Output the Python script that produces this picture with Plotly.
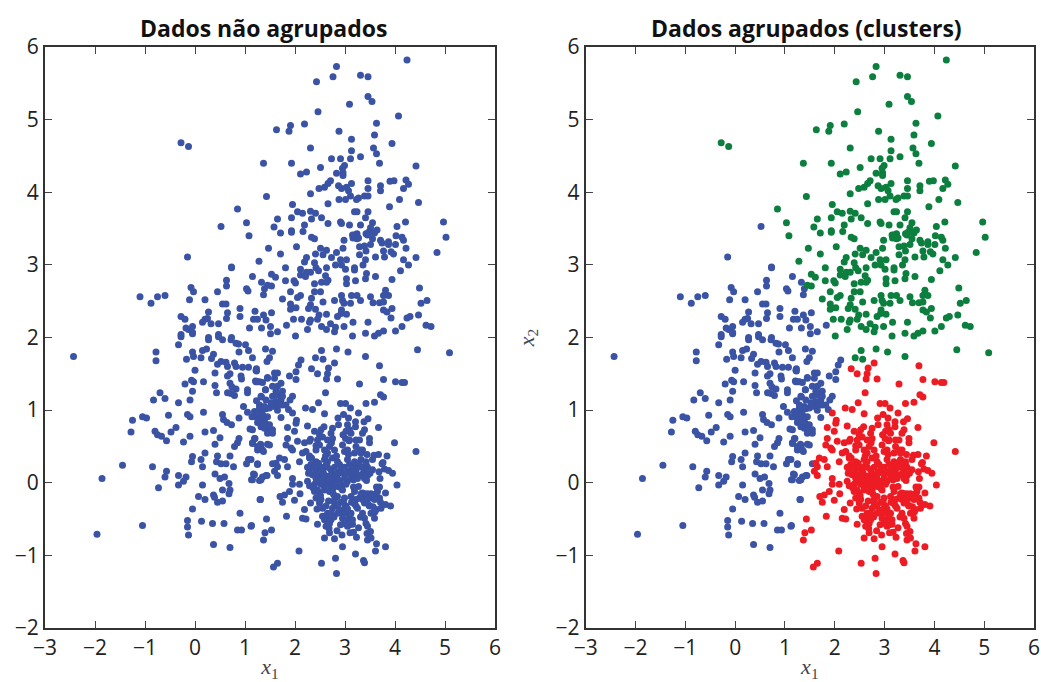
import plotly.graph_objects as go
from plotly.subplots import make_subplots

titles = ["Dados não agrupados", "Dados agrupados (clusters)"]
tick_x = [-3, -2, -1, 0, 1, 2, 3, 4, 5, 6]
tick_y = [-2, -1, 0, 1, 2, 3, 4, 5, 6]

green_x = [4.24,2.83,2.76,2.43,3.31,3.46,3.46,3.54,3.09,2.46,4.07,3.63,2.19,1.91,1.88,1.63,2.88,3.59,3.13,3.94,-0.28,-0.13,2.31,3.57,3.13,3.63,3.31,2.73,2.91,3.11,1.37,1.93,3.69,4.42,2.51,2.99,2.95,2.23,2.11,2.83,2.96,2.96,2.71,2.66,2.59,2.48,3.13,3.46,3.90,3.98,4.22,4.27,4.17,3.71,3.71,3.46,2.87,2.93,3.03,3.07,3.11,2.31,3.39,3.46,3.27,3.23,2.88,3.01,1.43,4.09,4.47,2.66,1.95,3.89,0.85,2.05,2.15,2.31,2.41,3.19,3.24,3.46,1.93,1.65,2.33,2.53,3.41,2.91,2.93,2.66,3.09,3.31,3.55,4.21,4.97,1.03,2.19,1.58,4.04,3.51,1.93,1.93,2.16,1.71,3.64,3.42,3.47,3.24,3.19,3.16,3.24,3.59,1.08,2.33,2.39,5.02,4.02,4.14,2.98,3.55,3.71,3.74,3.87,3.87,4.17,4.01,3.51,3.29,3.39,2.03,1.47,2.51,2.96,4.22,3.42,3.29,3.77,3.92,3.97,2.63,2.56,2.41,2.83,1.71,4.84,3.79,3.61,2.73,2.23,3.03,2.91,3.41,4.17,4.42,1.28,2.19,2.39,2.81,2.93,3.36,4.27,1.81,2.11,2.42,2.63,3.01,3.19,3.19,2.47,2.23,2.31,4.11,2.11,2.21,1.53,1.61,3.43,3.61,3.41,2.61,2.66,3.03,3.94,1.81,1.98,2.01,2.53,2.63,2.39,3.21,3.03,1.45,1.53,4.49,1.91,2.39,2.51,3.81,2.11,2.05,2.93,3.13,3.24,3.51,3.77,3.87,2.33,1.75,2.95,2.79,2.56,3.31,4.64,3.56,3.69,3.77,3.11,2.98,4.52,1.91,1.93,1.91,2.02,2.31,2.27,2.41,3.94,3.77,3.84,2.93,2.92,2.63,2.48,3.03,2.85,4.47,4.30,4.24,3.92,1.97,2.13,2.31,2.45,2.29,2.71,3.16,3.46,4.62,4.72,2.53,2.98,4.14,2.25,2.63,2.81,2.79,3.77,4.01,3.67,3.41,2.01,3.15,3.59,2.41,2.56,2.53,3.06,3.41,2.83,4.45,5.09,3.22,3.27,3.45,3.52,3.15]
green_y = [5.82,5.73,5.59,5.52,5.61,5.59,5.32,5.25,5.21,5.11,5.05,4.95,4.94,4.92,4.84,4.86,4.84,4.79,4.73,4.67,4.68,4.63,4.61,4.61,4.57,4.53,4.49,4.46,4.46,4.46,4.40,4.40,4.40,4.36,4.34,4.37,4.33,4.28,4.25,4.26,4.27,4.23,4.16,4.12,4.07,4.05,4.12,4.16,4.15,4.16,4.17,4.11,4.05,4.09,4.02,4.05,4.09,4.05,4.07,4.02,3.95,3.98,3.95,3.95,3.92,3.90,3.90,3.90,3.94,3.90,3.86,3.84,3.83,3.80,3.77,3.73,3.71,3.74,3.71,3.73,3.73,3.73,3.65,3.63,3.63,3.65,3.65,3.59,3.57,3.57,3.55,3.55,3.58,3.59,3.59,3.58,3.55,3.52,3.53,3.51,3.47,3.45,3.46,3.44,3.48,3.43,3.45,3.43,3.41,3.37,3.36,3.44,3.40,3.38,3.36,3.38,3.40,3.38,3.34,3.36,3.34,3.30,3.32,3.28,3.34,3.28,3.28,3.25,3.26,3.25,3.23,3.23,3.23,3.23,3.19,3.14,3.19,3.18,3.15,3.20,3.14,3.15,3.17,3.15,3.17,3.11,3.11,3.10,3.10,3.07,3.07,3.07,3.07,3.10,3.05,3.04,3.03,3.00,3.00,3.00,3.00,2.96,2.94,2.96,2.96,2.94,2.96,2.93,2.92,2.90,2.90,2.92,2.86,2.84,2.87,2.83,2.88,2.84,2.81,2.85,2.79,2.81,2.80,2.78,2.78,2.75,2.76,2.76,2.74,2.78,2.74,2.72,2.71,2.68,2.63,2.63,2.63,2.65,2.58,2.55,2.58,2.58,2.58,2.56,2.58,2.58,2.54,2.53,2.51,2.51,2.49,2.51,2.51,2.48,2.48,2.49,2.47,2.47,2.47,2.46,2.41,2.39,2.41,2.45,2.40,2.39,2.40,2.38,2.35,2.38,2.33,2.32,2.31,2.32,2.29,2.31,2.29,2.27,2.27,2.25,2.25,2.24,2.25,2.21,2.19,2.21,2.21,2.17,2.15,2.15,2.15,2.15,2.11,2.11,2.14,2.08,2.09,2.09,2.06,2.06,2.02,2.02,2.02,1.72,1.70,1.82,1.80,1.74,1.84,1.83,1.79,3.40,3.37,3.41,3.45,3.41]

blue_x = [-2.43,-0.78,-0.78,-0.28,-0.33,-0.13,-0.05,0.27,0.47,0.55,0.72,0.82,0.87,1.01,1.07,0.88,1.41,1.15,-0.05,-0.03,-0.17,0.12,0.15,0.23,0.37,0.33,0.45,0.52,0.62,0.65,0.79,0.82,0.95,1.07,1.23,1.23,1.44,0.0,0.40,0.65,0.70,0.92,0.93,1.45,-0.07,-0.03,-0.20,0.17,0.40,0.70,1.21,1.25,1.35,0.74,0.82,1.05,1.05,1.41,-0.05,0.43,0.65,0.72,0.79,-0.70,-0.60,-0.83,-0.33,-0.10,1.33,1.23,0.97,1.05,1.29,1.32,1.42,1.20,1.24,1.25,1.35,1.32,1.42,1.45,0.17,0.55,-0.53,-0.15,-0.10,-1.05,-0.97,-1.25,0.88,0.57,0.64,0.73,-0.38,-0.48,-1.28,-0.80,-0.75,-0.67,-0.57,-0.23,-0.10,0.20,0.37,0.50,1.10,0.88,0.85,0.40,0.79,1.20,1.15,1.31,1.45,1.25,1.37,0.20,-0.05,-0.07,0.12,0.45,0.70,0.43,0.52,0.62,1.07,1.03,1.25,0.77,0.15,-1.45,-0.85,-0.57,-0.60,-1.86,-0.33,-0.18,-0.23,-0.33,0.40,0.50,0.59,1.17,1.13,1.29,1.35,1.44,0.68,0.15,-0.73,0.55,0.70,0.68,0.07,0.37,0.39,0.20,0.45,0.55,1.31,-0.05,0.90,-0.15,-0.15,-0.13,0.13,0.35,0.58,1.13,0.85,0.93,-1.05,-1.96,0.37,0.70,0.52,-0.15,0.73,0.73,1.15,1.33,0.63,0.63,-0.08,-0.03,1.03,1.06,0.45,1.39,1.37,-0.60,-0.75,-1.10,-0.88,-0.11,0.20,0.55,0.62,0.90,0.65,1.20,1.53,0.90,0.63,0.27,-0.28,-0.20,0.25,0.20,1.37,1.17,1.25,1.42,0.15,0.32,0.47,1.83,1.51,1.33,1.09,-0.18,-0.05,-0.05,1.65,1.51,-0.28,0.27,0.47,0.73,1.55,1.49,2.12,2.07,2.02,1.89,2.02,1.59,1.65,1.59,1.22,1.22,1.45,1.65,1.75,1.41,1.55,1.95,1.90,1.32,1.72,1.75,1.87,1.49,1.59,1.65,1.39,1.29,1.19,1.72,1.25,1.32,1.39,1.49,1.55,1.19,1.15,1.32,1.49,1.35,1.25,1.55,1.19,1.42,1.32,1.15,1.30,1.12,1.25,1.35,1.45,1.29,1.39,1.49,1.35,1.55,1.45,1.62,1.52,1.65,1.75,1.82,1.69,1.42,1.62,1.55,1.72,1.29,1.14,1.15,1.25,1.12]
blue_y = [1.74,1.80,1.68,2.01,1.90,2.11,2.05,1.97,2.01,1.97,1.97,1.92,1.91,1.90,1.82,1.80,1.84,1.72,1.80,1.74,1.70,1.72,1.82,1.84,1.77,1.71,1.63,1.67,1.66,1.60,1.65,1.60,1.59,1.59,1.57,1.54,1.67,1.55,1.51,1.47,1.50,1.47,1.43,1.45,1.41,1.39,1.36,1.39,1.34,1.37,1.40,1.39,1.38,1.32,1.29,1.28,1.24,1.28,1.26,1.24,1.24,1.23,1.20,1.24,1.16,1.14,1.10,1.14,1.18,1.13,1.05,0.97,1.07,0.99,1.02,0.96,0.90,0.83,0.87,0.77,0.81,0.73,0.97,0.94,0.93,0.94,0.91,0.91,0.89,0.86,0.89,0.87,0.83,0.80,0.76,0.70,0.70,0.71,0.66,0.64,0.58,0.56,0.64,0.70,0.72,0.62,0.74,0.61,0.55,0.53,0.50,0.61,0.55,0.53,0.53,0.45,0.43,0.41,0.36,0.29,0.32,0.37,0.37,0.29,0.26,0.26,0.32,0.26,0.26,0.22,0.22,0.24,0.22,0.16,0.08,0.06,0.10,0.08,0.02,-0.03,0.12,0.06,0.08,0.12,0.04,0.03,0.08,0.10,-0.01,-0.03,-0.07,-0.10,-0.10,-0.15,-0.19,-0.17,-0.20,-0.23,-0.27,-0.25,-0.23,-0.36,-0.42,-0.52,-0.61,-0.72,-0.53,-0.56,-0.56,-0.59,-0.65,-0.65,-0.59,-0.71,-0.85,-0.89,3.53,3.11,2.97,2.96,2.84,2.76,2.79,2.71,2.69,2.63,2.67,2.64,2.63,2.67,2.59,2.58,2.56,2.56,2.47,2.52,2.52,2.46,2.46,2.40,2.34,2.36,2.34,2.29,2.26,2.35,2.29,2.25,2.26,2.25,2.31,2.25,2.25,2.24,2.21,2.19,2.19,2.17,2.15,2.13,2.13,2.13,2.15,2.07,2.08,2.05,2.04,2.0,2.04,2.0,1.81,1.72,1.69,1.62,1.53,1.47,1.42,1.51,1.51,1.44,1.55,1.39,1.44,1.33,1.26,1.28,1.19,1.19,1.14,1.19,1.14,1.07,1.01,1.03,1.05,1.0,1.05,1.03,0.98,0.90,0.89,0.84,0.75,0.71,0.73,0.61,0.54,0.52,0.52,0.45,0.25,0.26,0.11,0.10,0.04,0.04,-0.23,-0.60,0.96,0.94,0.91,0.87,0.84,0.80,0.80,0.68,0.68,1.12,1.10,1.21,1.19,1.07,1.07,1.14,1.26,1.33,1.37,1.39,0.91,0.73,0.50,0.32]

red_x = [2.79,2.33,2.45,2.67,2.65,2.63,2.85,3.69,3.77,3.29,4.01,4.14,4.19,2.61,3.71,3.77,2.21,2.35,2.47,2.59,2.91,3.01,3.42,3.59,3.11,3.27,1.95,2.03,2.02,2.86,2.97,3.07,3.46,1.85,1.99,2.25,2.75,2.72,3.05,3.21,3.21,3.67,2.39,2.49,2.55,3.02,3.12,3.35,1.85,2.05,2.31,2.29,2.75,3.01,3.49,3.49,3.29,3.99,4.42,1.82,1.92,2.19,2.42,2.69,2.95,3.22,1.95,2.22,2.65,2.99,3.19,3.44,3.67,3.84,1.69,1.79,2.09,2.29,2.59,2.75,3.05,3.32,3.55,1.62,1.85,1.65,2.32,2.45,2.61,2.89,3.09,3.25,3.42,3.74,1.59,1.65,2.29,2.42,2.55,2.72,2.92,3.09,3.22,3.39,3.55,3.79,3.87,3.95,2.35,2.49,2.65,2.82,2.99,3.15,3.32,3.45,1.95,3.70,2.25,2.45,2.62,2.75,2.89,3.05,1.95,2.09,2.29,4.04,2.59,2.72,2.85,3.69,3.65,1.89,2.39,2.49,2.69,3.19,3.35,3.45,3.81,1.79,1.70,2.10,2.42,2.85,2.99,3.12,3.29,3.55,3.69,1.75,1.99,2.49,2.79,2.92,3.19,3.39,3.81,3.91,2.55,2.75,2.99,3.25,3.72,2.19,2.65,2.85,3.05,3.35,3.52,3.62,1.83,2.15,2.22,2.65,2.95,3.09,3.39,3.59,1.43,2.45,2.69,2.99,3.15,3.42,2.62,3.05,3.45,1.53,1.40,2.69,2.94,3.10,3.51,2.59,2.79,3.23,3.45,3.52,1.37,3.63,2.95,3.81,3.61,2.08,3.21,2.81,3.37,2.53,3.39,1.65,1.57,2.83]
red_y = [1.65,1.57,1.50,1.58,1.50,1.43,1.43,1.61,1.42,1.36,1.39,1.38,1.38,1.24,1.21,1.18,1.03,1.01,1.10,0.95,1.09,1.09,1.09,1.11,1.03,0.96,0.96,0.86,0.82,0.89,0.94,0.89,0.88,0.76,0.71,0.78,0.75,0.68,0.80,0.84,0.77,0.76,0.71,0.66,0.63,0.71,0.68,0.68,0.61,0.57,0.60,0.57,0.61,0.61,0.61,0.55,0.59,0.55,0.43,0.52,0.48,0.55,0.51,0.50,0.52,0.50,0.45,0.43,0.41,0.43,0.41,0.39,0.39,0.37,0.34,0.32,0.29,0.34,0.32,0.34,0.32,0.32,0.32,0.27,0.22,0.22,0.25,0.25,0.22,0.25,0.25,0.25,0.25,0.26,0.16,0.10,0.18,0.18,0.16,0.18,0.18,0.16,0.18,0.16,0.18,0.19,0.17,0.13,0.11,0.10,0.09,0.10,0.11,0.10,0.11,0.10,0.06,0.06,0.02,0.02,0.02,0.02,0.02,0.02,-0.02,-0.02,-0.04,-0.03,-0.05,-0.06,-0.05,-0.06,-0.12,-0.12,-0.12,-0.14,-0.12,-0.12,-0.14,-0.15,-0.14,-0.17,-0.19,-0.15,-0.21,-0.19,-0.21,-0.19,-0.21,-0.21,-0.21,-0.27,-0.24,-0.28,-0.28,-0.27,-0.29,-0.28,-0.30,-0.32,-0.35,-0.35,-0.35,-0.35,-0.35,-0.37,-0.42,-0.42,-0.42,-0.42,-0.42,-0.37,-0.46,-0.49,-0.50,-0.49,-0.49,-0.49,-0.49,-0.49,-0.50,-0.57,-0.56,-0.56,-0.57,-0.56,-0.60,-0.60,-0.60,-0.65,-0.69,-0.69,-0.72,-0.69,-0.67,-0.76,-0.77,-0.75,-0.79,-0.76,-0.79,-0.84,-0.88,-0.88,-0.94,-0.94,-0.98,-1.04,-1.07,-1.11,-1.10,-1.11,-1.16,-1.25]
red_core_x = [2.25,2.39,2.52,2.65,2.79,2.99,3.15,3.32,3.45,2.27,2.41,2.57,2.74,2.87,3.03,3.21,3.37,3.50,2.42,2.57,2.72,2.85,2.99,3.12,3.25,3.39,2.39,2.52,2.65,2.79,2.92,3.02,2.42,2.65,2.85,3.19,3.42,2.45,2.59,2.75,2.95,3.32,3.39,3.52,3.62,2.52,2.79,3.22,3.35,3.45,3.59,2.62,2.85,3.02,3.22,3.49,2.72,2.95,3.12,2.59,2.72,3.02,3.15,2.65,3.09,2.42,2.59,2.79,3.05,3.35,2.45,2.65,3.09,3.22,2.52,3.09,3.39,2.15,3.32]
red_core_y = [0.215,0.215,0.215,0.215,0.215,0.215,0.215,0.215,0.215,0.13,0.13,0.13,0.13,0.13,0.13,0.13,0.13,0.13,0.06,0.06,0.06,0.06,0.06,0.06,0.06,0.06,-0.02,-0.02,-0.02,-0.02,-0.02,-0.02,0.29,0.29,0.29,0.29,0.29,-0.10,-0.10,-0.10,-0.10,-0.15,-0.15,-0.15,-0.15,-0.23,-0.23,-0.23,-0.23,-0.23,-0.23,-0.32,-0.32,-0.32,-0.32,-0.32,-0.42,-0.42,-0.42,-0.51,-0.51,-0.51,-0.51,-0.58,-0.58,0.45,0.45,0.45,0.45,0.45,0.59,0.59,0.59,0.59,0.73,0.73,0.73,0.41,0.41]
red_fill_x = [2.33,2.47,2.61,2.83,3.07,3.28,3.58,3.68,3.76,2.36,2.55,2.68,2.93,3.17,3.43,3.63,2.31,2.51,2.77,2.97,3.27,3.48,3.71,2.44,2.67,2.89,3.13,3.31,3.56,2.55,2.78,2.91,3.27,3.44,2.68,2.84,3.05,3.17,2.49,2.73,2.96,3.3,3.08,2.58,2.87,3.38,2.29,2.62,2.86,3.17,3.6]
red_fill_y = [0.34,0.27,0.37,0.37,0.39,0.27,0.38,0.15,0.28,-0.07,0.0,0.03,-0.08,-0.06,0.03,-0.06,-0.28,-0.18,-0.16,-0.27,-0.05,-0.31,-0.27,-0.36,-0.25,-0.38,-0.27,-0.47,-0.33,-0.46,-0.47,-0.58,-0.62,-0.7,-0.63,-0.66,-0.36,-0.68,0.52,0.55,0.66,0.45,0.58,0.77,0.8,0.84,0.37,0.24,0.14,0.04,-0.4]

BLUE, GREEN, RED = "#3a53a4", "#0c7f3f", "#ed1c24"
all_red_x, all_red_y = red_x + red_core_x + red_fill_x, red_y + red_core_y + red_fill_y
fig = make_subplots(rows=1, cols=2)
marker = dict(size=7, line=dict(width=0))
fig.add_trace(go.Scatter(x=blue_x + green_x + all_red_x, y=blue_y + green_y + all_red_y, mode="markers",
                         marker=dict(color=BLUE, **marker), showlegend=False), 1, 1)
for xs, ys, c in [(blue_x, blue_y, BLUE), (green_x, green_y, GREEN), (all_red_x, all_red_y, RED)]:
    fig.add_trace(go.Scatter(x=xs, y=ys, mode="markers", marker=dict(color=c, **marker), showlegend=False), 1, 2)

axis = dict(showgrid=False, zeroline=False, showline=True, linecolor="#333333", linewidth=2,
            mirror="ticks", ticks="inside", ticklen=7, tickwidth=1, tickcolor="#444444", automargin=False,
            tickfont=dict(family="Open Sans", size=21, color="#222222"))
W, H = 1041, 682
fig.update_xaxes(range=[-3, 6], tickvals=tick_x, **axis)
fig.update_yaxes(range=[-2, 6], tickvals=tick_y, **axis)
math = dict(family="Liberation Serif", size=22, color="#444444")
fig.update_xaxes(title=dict(text="<i>x</i><sub>1</sub>", font=math))
fig.update_yaxes(title=dict(text="<i>x</i><sub>2</sub>", font=math), row=1, col=2)
title_style = dict(xref="paper", yref="paper", showarrow=False, xanchor="center", yanchor="middle",
                   font=dict(family="Open Sans", size=23, color="#111111"))
fig.update_layout(
    width=W, height=H, autosize=False, paper_bgcolor="white", plot_bgcolor="white",
    margin=dict(l=0, r=0, t=0, b=0),
    xaxis=dict(domain=[45 / W, 495 / W]),
    xaxis2=dict(domain=[585.7 / W, 1034 / W]),
    yaxis=dict(domain=[1 - 628 / H, 1 - 47 / H]),
    yaxis2=dict(domain=[1 - 628 / H, 1 - 47 / H]),
    annotations=[
        dict(text=f"<b>{titles[0]}</b>", x=263 / W, y=1 - 28 / H, **title_style),
        dict(text=f"<b>{titles[1]}</b>", x=806 / W, y=1 - 28 / H, **title_style),
    ],
)
fig.write_html("out.html", config={"displayModeBar": False}, post_script="document.body.style.margin='0';")
